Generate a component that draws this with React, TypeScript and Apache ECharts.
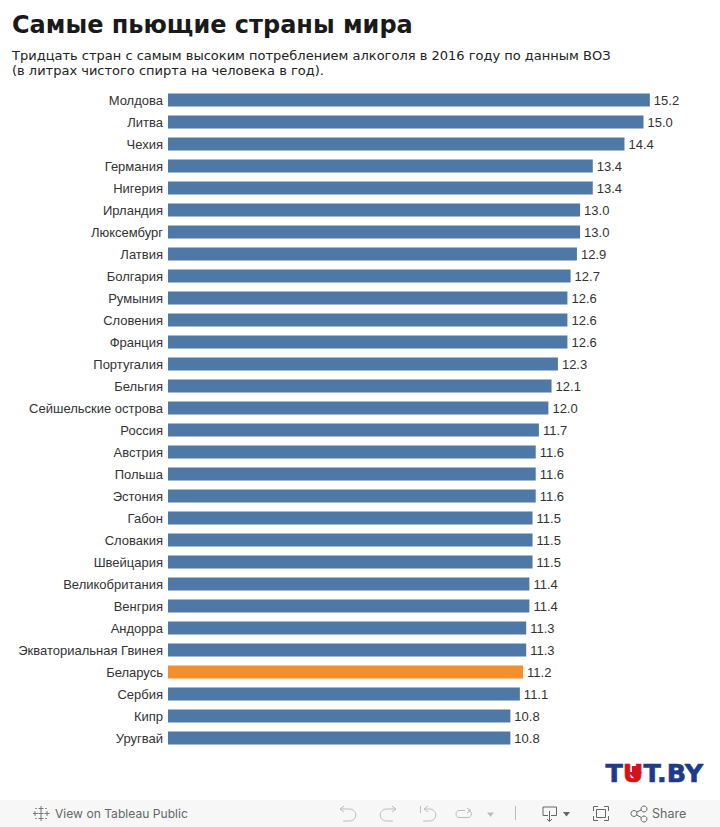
import React, { useEffect, useRef } from "react";
import * as echarts from "echarts";

const countries = ["Молдова","Литва","Чехия","Германия","Нигерия","Ирландия","Люксембург","Латвия","Болгария","Румыния","Словения","Франция","Португалия","Бельгия","Сейшельские острова","Россия","Австрия","Польша","Эстония","Габон","Словакия","Швейцария","Великобритания","Венгрия","Андорра","Экваториальная Гвинея","Беларусь","Сербия","Кипр","Уругвай"];
const litres = [15.2,15.0,14.4,13.4,13.4,13.0,13.0,12.9,12.7,12.6,12.6,12.6,12.3,12.1,12.0,11.7,11.6,11.6,11.6,11.5,11.5,11.5,11.4,11.4,11.3,11.3,11.2,11.1,10.8,10.8];
const highlighted = "Беларусь";
const titleText = "Самые пьющие страны мира";
const subtitleText = "Тридцать стран с самым высоким потреблением алкоголя в 2016 году по данным ВОЗ\n(в литрах чистого спирта на человека в год).";

const reg = (name: string, d: string) => echarts.graphic.registerShape(name, echarts.graphic.extendPath(d, {}));
reg("icUndo", "M344 806 L340 809 L344 812 M340 809 H349 C358 809 358 821 349 821 H343");
reg("icRedo", "M392 806 L396 809 L392 812 M396 809 H387 C378 809 378 821 387 821 H393");
reg("icReset", "M420.5 806 V813 M428 806 L424 809 L428 812 M424 809 H429 C438 809 438 821 429 821 H423");
reg("icPause", "M465 810.5 H459 C455 810.5 455 817.5 459 817.5 H468 C472.5 817.5 472.5 810.5 468 810.5 M467 808 L471 810.5 L467 813");
reg("icDownload", "M548 815.5 H543 V807 H556.5 V815.5 H551 M549.5 811 V821 M547 819 L549.5 821.5 L552 819");
reg("icFull", "M593.5 811 V806.5 H598 M604 806.5 H608.5 V811 M608.5 816 V820.5 H604 M598 820.5 H593.5 V816 M596.5 809.5 H605.5 V817.5 H596.5 Z");
reg("icShare", "M634 810.5 A3 3 0 1 1 633.99 810.5 Z M644 806 A3 3 0 1 1 643.99 806 Z M644 816 A3 3 0 1 1 643.99 816 Z M636.7 812 L641.3 810 M636.7 815 L641.3 817.5");
reg("icTableau", "M41 806 V811 M38.5 808.5 H43.5 M41 816 V821 M38.5 818.5 H43.5 M35 811 V816 M33 813.5 H38 M47 811 V816 M44.5 813.5 H49.5 M36 808 V809 M35.5 808.5 H36.5 M46 808 V809 M45.5 808.5 H46.5 M36 818 V819 M35.5 818.5 H36.5 M46 818 V819 M45.5 818.5 H46.5 M41 811 V816 M38.5 813.5 H43.5");
reg("logoNotch", "M632 766 H638 V772 H642 L635 779 L628 772 H632 Z");

const stroked = (type: string, color: string) => ({ type, silent: true, z: 12, style: { fill: "none", stroke: color, lineWidth: 1 } });
const GREY = "#bdbdbd";
const DARK = "#666666";
const BLUE = "#1f3a8a";
const RED = "#d0141a";

export default function App() {
  const ref = useRef<HTMLDivElement>(null);
  useEffect(() => {
    document.body.style.margin = "0";
    const chart = echarts.init(ref.current!, undefined, { renderer: "svg" });
    chart.setOption({
      animation: false,
      backgroundColor: "#ffffff",
      title: [
        { text: titleText, left: 12, top: 11, padding: 0, textStyle: { fontFamily: "DejaVu Sans", fontWeight: "bold", fontSize: 24, color: "#1a1a1a", lineHeight: 28 } },
        { text: subtitleText, left: 12, top: 48, padding: 0, textStyle: { fontFamily: "DejaVu Sans", fontWeight: "normal", fontSize: 13, color: "#222222", lineHeight: 15 } },
      ],
      grid: { left: 168, top: 89, height: 660, width: 507.2 },
      xAxis: { type: "value", min: 0, max: 16, show: false },
      yAxis: {
        type: "category",
        inverse: true,
        data: countries,
        axisLine: { show: false },
        axisTick: { show: false },
        axisLabel: { margin: 5, fontFamily: "Liberation Sans", fontSize: 13, color: "#333333", interval: 0 },
      },
      series: [{
        type: "bar",
        barWidth: 13,
        data: litres.map((v, i) => ({ value: v, itemStyle: { color: countries[i] === highlighted ? "#f28e2b" : "#4e79a7" } })),
        label: { show: true, position: "right", distance: 4, fontFamily: "Liberation Sans", fontSize: 13, color: "#333333", formatter: (p: any) => p.value.toFixed(1) },
      }],
      graphic: [
        { type: "rect", silent: true, z: 10, shape: { x: 0, y: 800, width: 720, height: 27 }, style: { fill: "#f7f7f7" } },
        stroked("icTableau", "#777777"),
        { type: "text", silent: true, z: 12, x: 55, y: 813.5, style: { text: "View on Tableau Public", font: "12.1px Inter", fill: DARK, verticalAlign: "middle" } },
        stroked("icUndo", GREY), stroked("icRedo", GREY), stroked("icReset", GREY), stroked("icPause", GREY),
        { type: "polygon", silent: true, z: 12, shape: { points: [[487, 812.5], [494, 812.5], [490.5, 817]] }, style: { fill: GREY } },
        { type: "line", silent: true, z: 12, shape: { x1: 515.5, y1: 806, x2: 515.5, y2: 820 }, style: { stroke: "#bbbbbb", lineWidth: 1 } },
        stroked("icDownload", DARK),
        { type: "polygon", silent: true, z: 12, shape: { points: [[563, 812], [570, 812], [566.5, 816.5]] }, style: { fill: DARK } },
        stroked("icFull", DARK), stroked("icShare", DARK),
        { type: "text", silent: true, z: 12, x: 652, y: 813.5, style: { text: "Share", font: "12.5px Inter", fill: DARK, verticalAlign: "middle" } },
        { type: "text", silent: true, z: 12, x: 605.5, y: 774, scaleX: 1.06, style: {
          text: "{b|T}{r|U}{b|T.BY}", verticalAlign: "middle",
          rich: {
            b: { fontFamily: "DejaVu Sans", fontWeight: "bold", fontSize: 24, fill: BLUE, color: BLUE, stroke: BLUE, lineWidth: 0.6 },
            r: { fontFamily: "DejaVu Sans", fontWeight: "bold", fontSize: 24, fill: RED, color: RED, stroke: RED, lineWidth: 0.6 },
          },
        } },
        { type: "logoNotch", silent: true, z: 12, style: { fill: RED } },
      ],
    });
    return () => chart.dispose();
  }, []);
  return <div ref={ref} style={{ width: 720, height: 827 }} />;
}
